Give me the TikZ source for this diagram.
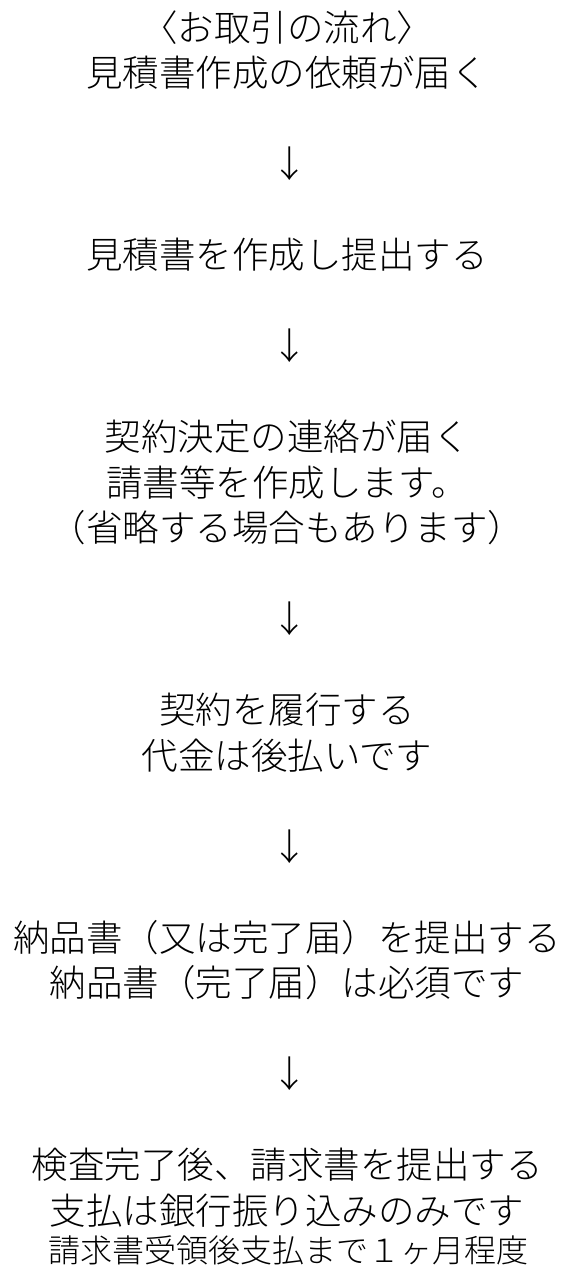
\documentclass[tikz,border=0pt]{standalone}
\usepackage{fontspec}
\newfontfamily\jpfont{Noto Sans CJK JP}[UprightFont={* Light}]
\begin{document}
\begin{tikzpicture}[x=1pt,y=-1pt,
  txt/.style={inner sep=0pt, anchor=center, font=\jpfont\fontsize{36.5}{40}\selectfont},
  small/.style={inner sep=0pt, anchor=center, font=\jpfont\fontsize{32}{36}\selectfont},
  arr/.style={inner sep=0pt, anchor=center, font=\jpfont\fontsize{36.5}{40}\selectfont}]
\useasboundingbox (0,0) rectangle (570,1268);
\def\py{45.5}
\def\yo{27.5}
\node[txt] (t0) at (287,\yo) {〈お取引の流れ〉};
\node[txt] (t1) at (287,\yo+1*\py) {見積書作成の依頼が届く};
\node[arr] (a1) at (290,\yo+3*\py) {↓};
\node[txt] (t2) at (287,\yo+5*\py) {見積書を作成し提出する};
\node[arr] (a2) at (290,\yo+7*\py) {↓};
\node[txt] (t3a) at (287,\yo+9*\py) {契約決定の連絡が届く};
\node[txt] (t3b) at (287,\yo+10*\py) {請書等を作成します。};
\node[txt] (t3c) at (287,\yo+11*\py) {（省略する場合もあります）};
\node[arr] (a3) at (290,\yo+13*\py) {↓};
\node[txt] (t4a) at (287,\yo+15*\py) {契約を履行する};
\node[txt] (t4b) at (287,\yo+16*\py) {代金は後払いです};
\node[arr] (a4) at (290,\yo+18*\py) {↓};
\node[txt] (t5a) at (287,\yo+20*\py) {納品書（又は完了届）を提出する};
\node[txt] (t5b) at (287,\yo+21*\py) {納品書（完了届）は必須です};
\node[arr] (a5) at (290,\yo+23*\py) {↓};
\node[txt] (t6a) at (287,\yo+25*\py) {検査完了後、請求書を提出する};
\node[txt] (t6b) at (287,\yo+26*\py) {支払は銀行振り込みのみです};
\node[small] (t6c) at (288,1250) {請求書受領後支払まで１ヶ月程度};
\end{tikzpicture}
\end{document}
